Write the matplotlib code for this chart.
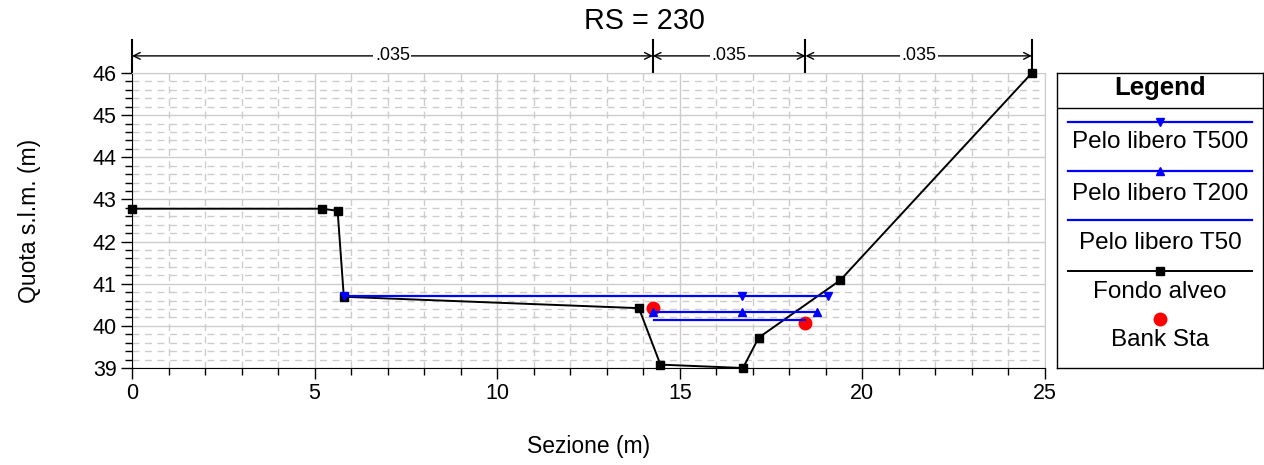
import numpy as np
import matplotlib.pyplot as plt
from matplotlib.ticker import MultipleLocator
from matplotlib.lines import Line2D

plt.rcParams['font.family'] = ['Liberation Sans', 'DejaVu Sans']

# Ground profile (Fondo alveo)
ground_x = [0.0, 5.2, 5.63, 5.8, 13.88, 14.47, 16.73, 17.16, 19.39, 24.64]
ground_y = [42.78, 42.78, 42.73, 40.69, 40.42, 39.08, 39.0, 39.72, 41.08, 46.0]

# Bank stations
bank_x = [14.26, 18.44]
bank_y = [40.42, 40.07]

# Water surfaces
t500_x = [5.8, 16.7, 19.06]
t500_y = [40.71, 40.71, 40.71]
t200_x = [14.26, 16.7, 18.75]
t200_y = [40.34, 40.34, 40.34]
t50_x = [14.3, 18.44]
t50_y = [40.13, 40.13]

# Manning n regions
n_bounds = [0.0, 14.26, 18.44, 24.64]
n_values = [".035", ".035", ".035"]

fig = plt.figure(figsize=(12.64, 4.65), dpi=100)
ax = fig.add_axes([132/1264, 1-368/465, (1045-132)/1264, 295/465])

grid_col = "#cccccc"
ax.set_xlim(0, 25)
ax.set_ylim(39, 46)
ax.xaxis.set_major_locator(MultipleLocator(5))
ax.xaxis.set_minor_locator(MultipleLocator(1))
ax.yaxis.set_major_locator(MultipleLocator(1))
ax.yaxis.set_minor_locator(MultipleLocator(0.2))
ax.grid(which="major", color=grid_col, lw=1.0, ls="-")
ax.grid(which="minor", color=grid_col, lw=1.0, ls=(0, (5, 4)))
ax.set_axisbelow(True)
ax.tick_params(which="major", length=8, width=1, labelsize=15.5, pad=3)
ax.tick_params(which="minor", length=5, width=1)
for s in ["top", "right"]:
    ax.spines[s].set_color(grid_col)
for s in ["left", "bottom"]:
    ax.spines[s].set_color("black")

ax.plot(ground_x, ground_y, color="black", lw=1.4, marker="s", ms=6, zorder=3, clip_on=False)
ax.plot(bank_x, bank_y, ls="none", marker="o", color="red", ms=9, zorder=4)
ax.plot(t500_x, t500_y, color="blue", lw=1.6, marker="v", ms=6, zorder=5)
ax.plot(t200_x, t200_y, color="blue", lw=1.6, marker="^", ms=6, zorder=5)
ax.plot(t50_x, t50_y, color="blue", lw=1.6, zorder=5)

# n-value dimension lines above the plot
trans = ax.get_xaxis_transform()
for xb in n_bounds:
    ax.plot([xb, xb], [1.0, 1.112], color="black", lw=1.5, transform=trans, clip_on=False)
for i, nv in enumerate(n_values):
    x0, x1 = n_bounds[i], n_bounds[i + 1]
    ax.annotate("", xy=(x0, 1.058), xytext=(x1, 1.058), xycoords=trans, textcoords=trans,
                arrowprops=dict(arrowstyle="<->", color="black", lw=1.0,
                                shrinkA=0, shrinkB=0, mutation_scale=12))
    ax.text((x0 + x1) / 2, 1.058, nv, transform=trans, ha="center", va="center",
            fontsize=13, bbox=dict(fc="white", ec="none", pad=1))

ax.set_xlabel("Sezione (m)", fontsize=16.5, labelpad=22)
ax.set_ylabel("Quota s.l.m. (m)", fontsize=16.5, labelpad=37)
fig.text(644/1264, 1-21/465, "RS = 230", ha="center", va="center", fontsize=20.7)

# Legend box
lax = fig.add_axes([1057/1264, 1-368/465, 206/1264, 295/465])
lax.set_xlim(0, 1)
lax.set_ylim(0, 1)
lax.set_xticks([])
lax.set_yticks([])
for s in lax.spines.values():
    s.set_color("black")
    s.set_linewidth(1.0)
lax.axhline(0.881, color="black", lw=1.0)
lax.text(0.5, 0.949, "Legend", ha="center", va="center", fontsize=18.5, fontweight="bold")
entries = [
    ("Pelo libero T500", dict(color="blue", lw=1.6, marker="v", ms=6), 0.834, 0.766),
    ("Pelo libero T200", dict(color="blue", lw=1.6, marker="^", ms=6), 0.668, 0.590),
    ("Pelo libero T50", dict(color="blue", lw=1.6), 0.502, 0.424),
    ("Fondo alveo", dict(color="black", lw=1.4, marker="s", ms=6), 0.329, 0.258),
    ("Bank Sta", dict(color="red", ls="none", marker="o", ms=9), 0.166, 0.095),
]
for label, style, ly, ty in entries:
    lax.add_line(Line2D([0.053, 0.5, 0.947], [ly, ly, ly], markevery=[1], **style))
    lax.text(0.5, ty, label, ha="center", va="center", fontsize=17.5)

fig.savefig("out.png", dpi=100)
